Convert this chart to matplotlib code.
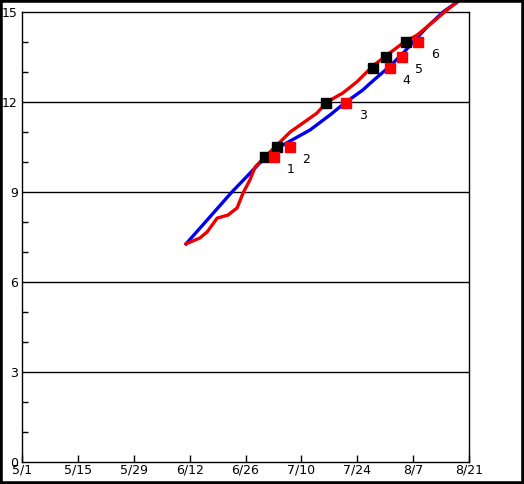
import matplotlib
matplotlib.use("Agg")
import matplotlib.pyplot as plt
from matplotlib.patches import Rectangle

# days counted from 5/1
x_labels = ['5/1', '5/15', '5/29', '6/12', '6/26', '7/10', '7/24', '8/7', '8/21']
x_ticks = [0, 14, 28, 42, 56, 70, 84, 98, 112]

blue_days = [41.1, 52.6, 59.6, 64.1, 67.2, 72.2, 77.2, 80.9, 85.4, 87.2, 90.5,
             92.2, 95.5, 98.0, 101.5, 105.5, 109.0]
blue_vals = [7.27, 9.0, 9.97, 10.47, 10.7, 11.07, 11.57, 11.97, 12.4, 12.62, 13.0,
             13.2, 13.63, 14.0, 14.5, 15.0, 15.33]

red_days = [41.1, 44.6, 46.4, 48.9, 51.6, 53.9, 55.4, 57.1, 58.4, 59.6, 60.9, 65.9, 67.2,
            70.4, 73.9, 76.4, 80.4, 83.9, 87.9, 91.5, 95.5, 99.0, 103.0, 106.5, 109.7]
red_vals = [7.27, 7.47, 7.67, 8.13, 8.23, 8.47, 8.97, 9.4, 9.83, 10.0, 10.17, 10.83, 11.0,
            11.3, 11.63, 12.0, 12.3, 12.67, 13.2, 13.57, 13.97, 14.23, 14.67, 15.07, 15.4]

black_days = [60.9, 63.9, 76.2, 88.0, 91.2, 96.2]
black_vals = [10.17, 10.5, 11.97, 13.13, 13.5, 14.0]
red_pt_days = [63.1, 67.1, 81.2, 92.2, 95.2, 99.2]
red_pt_vals = [10.17, 10.5, 11.97, 13.13, 13.5, 14.0]
pt_labels = ['1', '2', '3', '4', '5', '6']

fig = plt.figure(figsize=(5.24, 4.84), dpi=100)
ax = fig.add_axes([22 / 524, 22 / 484, 447 / 524, 450 / 484])

for y in [3, 6, 9, 12]:
    ax.axhline(y, color='black', linewidth=1)

ax.plot(blue_days, blue_vals, color='#0000ee', linewidth=2.4, clip_on=False, zorder=3)
ax.plot(red_days, red_vals, color='#ee0000', linewidth=2.4, clip_on=False, zorder=3)
ax.plot(black_days, black_vals, 's', color='black', markersize=7.5, zorder=4)
ax.plot(red_pt_days, red_pt_vals, 's', color='#ff0000', markersize=7.5, zorder=5)
for d, v, t in zip(red_pt_days, red_pt_vals, pt_labels):
    ax.annotate(t, (d, v), xytext=(12, -9), textcoords='offset points',
                fontsize=9, ha='center', va='center')

ax.set_xlim(0, 112)
ax.set_ylim(0, 15)
ax.set_xticks(x_ticks)
ax.set_xticklabels(x_labels, fontsize=9)
ax.set_yticks([0, 3, 6, 9, 12, 15])
ax.set_yticklabels(['0', '3', '6', '9', '12', '15'], fontsize=9)
ax.set_yticks(range(1, 15), minor=True)
ax.tick_params(axis='x', direction='in', length=5, pad=1, width=1)
ax.tick_params(axis='y', which='major', length=0, pad=3)
ax.tick_params(axis='y', which='minor', direction='in', length=4, width=1)
for s in ax.spines.values():
    s.set_linewidth(1)

fig.patches.append(Rectangle((0, 0), 1, 1, transform=fig.transFigure, fill=False,
                             edgecolor='black', linewidth=4, zorder=10))

fig.savefig('out.png', dpi=100)
